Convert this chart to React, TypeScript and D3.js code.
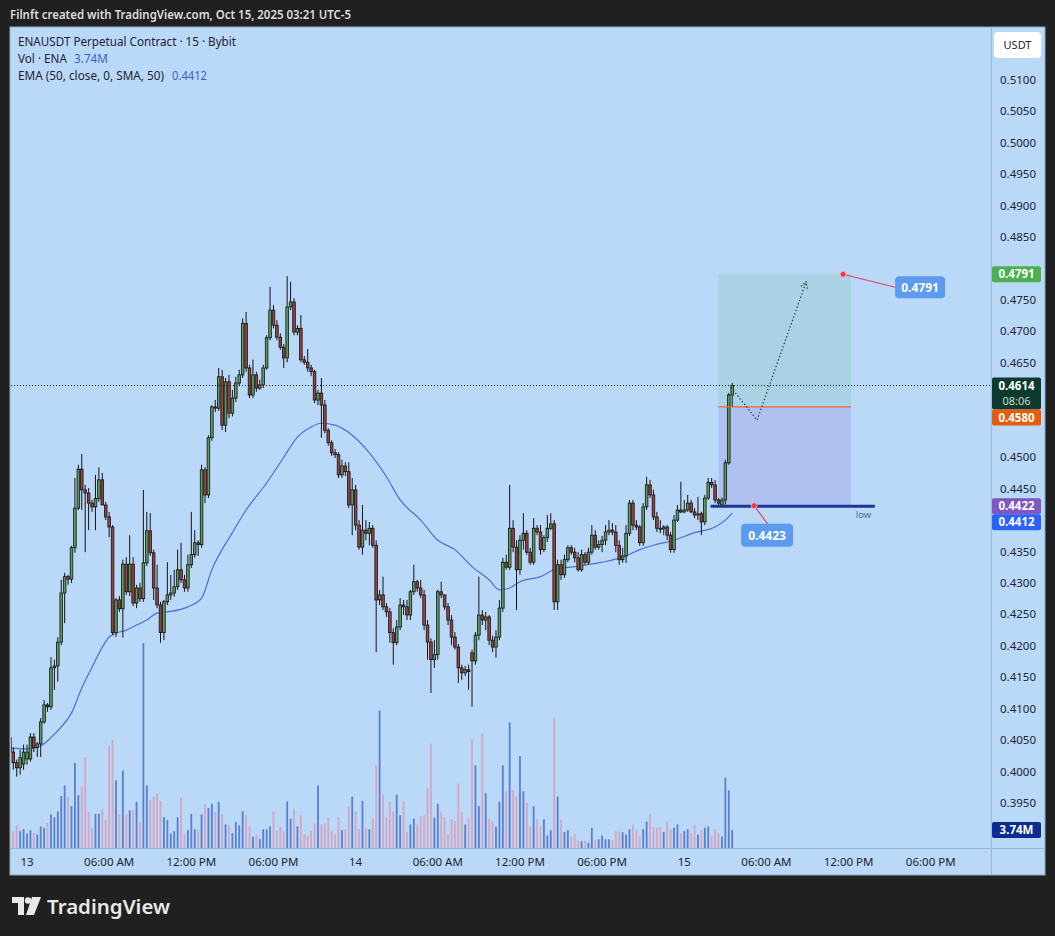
import React from "react";
import * as d3 from "d3";

// ---------- DATA (ENAUSDT 15m) ----------
const opens = [
  0.4054,0.4031,0.4014,0.4006,0.4012,0.4020,0.4020,0.4055,0.4038,0.4044,
  0.4079,0.4106,0.4103,0.4165,0.4168,0.4206,0.4284,0.4310,0.4306,0.4356,
  0.4419,0.4481,0.4448,0.4443,0.4427,0.4421,0.4434,0.4464,0.4424,0.4405,
  0.4389,0.4221,0.4273,0.4259,0.4330,0.4286,0.4330,0.4268,0.4292,0.4275,
  0.4332,0.4383,0.4348,0.4292,0.4265,0.4221,0.4270,0.4281,0.4284,0.4294,
  0.4321,0.4305,0.4292,0.4329,0.4345,0.4364,0.4361,0.4480,0.4440,0.4531,
  0.4580,0.4578,0.4628,0.4551,0.4620,0.4570,0.4594,0.4618,0.4631,0.4713,
  0.4642,0.4599,0.4631,0.4610,0.4615,0.4642,0.4690,0.4734,0.4710,0.4691,
  0.4675,0.4658,0.4739,0.4747,0.4699,0.4705,0.4655,0.4651,0.4642,0.4636,
  0.4591,0.4602,0.4583,0.4543,0.4523,0.4507,0.4504,0.4472,0.4486,0.4477,
  0.4424,0.4448,0.4392,0.4357,0.4384,0.4379,0.4387,0.4360,0.4273,0.4281,
  0.4262,0.4254,0.4221,0.4205,0.4230,0.4265,0.4262,0.4249,0.4286,0.4302,
  0.4292,0.4281,0.4233,0.4206,0.4178,0.4186,0.4286,0.4281,0.4262,0.4241,
  0.4214,0.4198,0.4165,0.4157,0.4162,0.4189,0.4176,0.4217,0.4249,0.4241,
  0.4246,0.4209,0.4198,0.4214,0.4260,0.4333,0.4325,0.4387,0.4357,0.4321,
  0.4368,0.4379,0.4349,0.4333,0.4387,0.4381,0.4353,0.4372,0.4387,0.4394,
  0.4270,0.4329,0.4313,0.4337,0.4356,0.4349,0.4340,0.4321,0.4345,0.4333,
  0.4349,0.4376,0.4357,0.4361,0.4368,0.4381,0.4384,0.4381,0.4360,0.4337,
  0.4343,0.4379,0.4427,0.4392,0.4389,0.4364,0.4421,0.4456,0.4440,0.4405,
  0.4387,0.4386,0.4389,0.4376,0.4353,0.4400,0.4416,0.4413,0.4416,0.4427,
  0.4413,0.4408,0.4410,0.4397,0.4435,0.4460,0.4456,0.4432,0.4424,0.4432,
  0.4491,0.4599,
];
const highs = [
  0.4058,0.4038,0.4019,0.4035,0.4043,0.4043,0.4061,0.4061,0.4047,0.4085,
  0.4114,0.4109,0.4182,0.4178,0.4214,0.4305,0.4316,0.4313,0.4359,0.4467,
  0.4488,0.4505,0.4456,0.4451,0.4432,0.4472,0.4484,0.4475,0.4429,0.4413,
  0.4392,0.4276,0.4279,0.4337,0.4341,0.4376,0.4341,0.4297,0.4300,0.4448,
  0.4413,0.4411,0.4353,0.4329,0.4270,0.4273,0.4333,0.4313,0.4321,0.4353,
  0.4364,0.4313,0.4345,0.4413,0.4384,0.4368,0.4488,0.4484,0.4535,0.4583,
  0.4591,0.4642,0.4639,0.4626,0.4631,0.4607,0.4628,0.4639,0.4721,0.4731,
  0.4647,0.4655,0.4636,0.4623,0.4647,0.4694,0.4771,0.4742,0.4718,0.4697,
  0.4680,0.4788,0.4779,0.4753,0.4710,0.4726,0.4661,0.4672,0.4647,0.4639,
  0.4607,0.4626,0.4591,0.4546,0.4527,0.4513,0.4508,0.4496,0.4492,0.4492,
  0.4467,0.4456,0.4400,0.4424,0.4400,0.4397,0.4392,0.4368,0.4289,0.4310,
  0.4268,0.4260,0.4228,0.4241,0.4276,0.4273,0.4273,0.4289,0.4329,0.4305,
  0.4305,0.4289,0.4241,0.4212,0.4209,0.4289,0.4302,0.4281,0.4268,0.4249,
  0.4222,0.4203,0.4170,0.4168,0.4170,0.4194,0.4222,0.4310,0.4257,0.4254,
  0.4249,0.4216,0.4225,0.4273,0.4340,0.4345,0.4456,0.4400,0.4368,0.4376,
  0.4411,0.4384,0.4356,0.4403,0.4392,0.4392,0.4376,0.4408,0.4411,0.4400,
  0.4337,0.4337,0.4345,0.4360,0.4360,0.4356,0.4349,0.4353,0.4349,0.4356,
  0.4392,0.4384,0.4368,0.4375,0.4392,0.4400,0.4395,0.4392,0.4368,0.4356,
  0.4392,0.4432,0.4432,0.4400,0.4392,0.4427,0.4469,0.4464,0.4448,0.4413,
  0.4400,0.4392,0.4392,0.4381,0.4408,0.4424,0.4461,0.4432,0.4440,0.4432,
  0.4419,0.4437,0.4413,0.4440,0.4467,0.4467,0.4464,0.4435,0.4436,0.4496,
  0.4602,0.4618,
];
const lows = [
  0.4025,0.4003,0.3992,0.3995,0.4003,0.4011,0.4016,0.4031,0.4023,0.4023,
  0.4076,0.4095,0.4098,0.4130,0.4143,0.4201,0.4236,0.4297,0.4300,0.4348,
  0.4416,0.4416,0.4349,0.4384,0.4413,0.4384,0.4429,0.4424,0.4400,0.4373,
  0.4217,0.4214,0.4254,0.4213,0.4281,0.4279,0.4263,0.4260,0.4270,0.4270,
  0.4327,0.4343,0.4273,0.4260,0.4205,0.4209,0.4265,0.4273,0.4278,0.4289,
  0.4300,0.4286,0.4286,0.4324,0.4340,0.4343,0.4356,0.4427,0.4435,0.4526,
  0.4572,0.4574,0.4543,0.4540,0.4562,0.4565,0.4588,0.4613,0.4626,0.4636,
  0.4594,0.4594,0.4604,0.4607,0.4610,0.4639,0.4686,0.4705,0.4686,0.4671,
  0.4642,0.4651,0.4734,0.4694,0.4694,0.4651,0.4647,0.4636,0.4629,0.4586,
  0.4583,0.4531,0.4538,0.4518,0.4502,0.4499,0.4467,0.4467,0.4470,0.4419,
  0.4376,0.4384,0.4353,0.4345,0.4368,0.4360,0.4356,0.4190,0.4265,0.4257,
  0.4246,0.4205,0.4170,0.4201,0.4225,0.4249,0.4241,0.4241,0.4281,0.4286,
  0.4276,0.4225,0.4178,0.4125,0.4165,0.4178,0.4276,0.4257,0.4233,0.4201,
  0.4194,0.4141,0.4146,0.4152,0.4130,0.4103,0.4170,0.4209,0.4233,0.4225,
  0.4201,0.4190,0.4181,0.4209,0.4254,0.4321,0.4321,0.4349,0.4257,0.4313,
  0.4353,0.4345,0.4329,0.4329,0.4376,0.4345,0.4349,0.4365,0.4384,0.4257,
  0.4257,0.4305,0.4308,0.4333,0.4345,0.4333,0.4318,0.4318,0.4329,0.4329,
  0.4345,0.4353,0.4353,0.4349,0.4360,0.4376,0.4376,0.4349,0.4329,0.4332,
  0.4332,0.4375,0.4384,0.4384,0.4359,0.4359,0.4416,0.4435,0.4400,0.4381,
  0.4379,0.4376,0.4368,0.4348,0.4348,0.4397,0.4411,0.4411,0.4413,0.4411,
  0.4403,0.4400,0.4376,0.4392,0.4432,0.4451,0.4427,0.4423,0.4421,0.4425,
  0.4488,0.4580,
];
const closes = [
  0.4031,0.4014,0.4006,0.4022,0.4031,0.4031,0.4055,0.4038,0.4044,0.4079,
  0.4106,0.4103,0.4165,0.4168,0.4206,0.4284,0.4310,0.4306,0.4356,0.4419,
  0.4481,0.4448,0.4443,0.4427,0.4421,0.4434,0.4464,0.4424,0.4405,0.4389,
  0.4221,0.4273,0.4259,0.4330,0.4286,0.4330,0.4268,0.4292,0.4275,0.4332,
  0.4383,0.4348,0.4292,0.4265,0.4221,0.4270,0.4281,0.4284,0.4294,0.4321,
  0.4305,0.4292,0.4329,0.4345,0.4364,0.4361,0.4480,0.4440,0.4531,0.4580,
  0.4578,0.4628,0.4551,0.4620,0.4570,0.4594,0.4618,0.4631,0.4713,0.4642,
  0.4599,0.4631,0.4610,0.4615,0.4642,0.4690,0.4734,0.4710,0.4691,0.4675,
  0.4658,0.4739,0.4747,0.4699,0.4705,0.4655,0.4651,0.4642,0.4636,0.4591,
  0.4602,0.4583,0.4543,0.4523,0.4507,0.4504,0.4472,0.4486,0.4477,0.4424,
  0.4448,0.4392,0.4357,0.4384,0.4379,0.4387,0.4360,0.4273,0.4281,0.4262,
  0.4254,0.4221,0.4205,0.4230,0.4265,0.4262,0.4249,0.4286,0.4302,0.4292,
  0.4281,0.4233,0.4206,0.4178,0.4186,0.4286,0.4281,0.4262,0.4241,0.4214,
  0.4198,0.4165,0.4157,0.4162,0.4159,0.4176,0.4217,0.4249,0.4241,0.4246,
  0.4209,0.4198,0.4214,0.4260,0.4333,0.4325,0.4387,0.4357,0.4321,0.4368,
  0.4379,0.4349,0.4333,0.4387,0.4381,0.4353,0.4372,0.4387,0.4394,0.4270,
  0.4329,0.4313,0.4337,0.4356,0.4349,0.4340,0.4321,0.4345,0.4333,0.4349,
  0.4376,0.4357,0.4361,0.4368,0.4381,0.4384,0.4381,0.4360,0.4337,0.4343,
  0.4379,0.4427,0.4392,0.4389,0.4364,0.4421,0.4456,0.4440,0.4405,0.4387,
  0.4386,0.4389,0.4376,0.4353,0.4400,0.4416,0.4413,0.4416,0.4427,0.4413,
  0.4408,0.4410,0.4397,0.4435,0.4460,0.4456,0.4432,0.4427,0.4432,0.4491,
  0.4599,0.4614,
];
// volume in millions of ENA
const volumes = [
  3.0,3.5,4.7,3.5,3.9,3.0,3.7,3.1,2.8,4.5,
  4.2,5.2,7.0,6.4,7.6,10.8,13.0,10.7,8.7,17.7,
  11.0,12.8,18.9,7.5,4.2,7.1,7.1,8.0,5.9,21.3,
  22.5,14.1,7.0,16.1,7.0,7.8,7.8,9.6,5.4,42.6,
  13.0,10.0,10.7,11.3,9.8,6.4,5.8,3.0,3.5,6.4,
  10.6,3.0,3.7,7.1,3.9,3.9,7.0,9.2,8.3,9.2,
  7.5,9.6,7.1,4.9,4.7,3.1,5.4,4.7,7.6,6.9,
  4.5,2.3,2.8,1.9,3.9,3.9,4.5,7.6,3.5,4.4,
  3.5,9.7,6.1,8.2,4.5,6.8,2.8,2.5,3.5,5.1,
  13.0,4.9,5.1,6.4,3.5,2.8,6.4,3.7,3.9,8.7,
  10.7,7.6,4.0,9.8,4.2,3.9,6.0,17.2,28.6,11.1,
  6.4,9.7,7.6,11.1,6.8,9.7,3.3,4.9,6.1,4.9,
  6.6,6.8,12.5,21.7,6.3,9.2,7.5,6.4,2.8,6.0,
  5.6,13.4,7.5,4.9,6.1,22.6,17.2,8.7,23.8,11.4,
  6.1,5.6,4.4,9.6,17.2,11.8,26.1,12.0,10.7,19.1,
  11.8,9.4,4.5,8.7,6.0,4.5,6.0,2.6,3.7,27.1,
  10.7,5.9,3.3,3.7,2.4,2.8,1.6,1.4,1.5,1.1,
  4.2,1.8,1.8,2.6,1.8,1.8,1.6,3.5,3.5,3.3,
  2.8,3.9,4.9,3.7,2.4,3.9,5.5,7.0,4.4,4.2,
  4.4,3.3,5.5,3.8,4.2,4.9,3.1,3.5,3.9,3.1,
  4.7,2.8,3.7,4.2,4.5,2.6,3.9,3.0,2.4,14.6,
  12.0,3.74,
];

// EMA(50) at sample bars
const emaBars = [0,5,9,12,15,18,21,24,27,29,31,34,37,40,43,46,52,56,59,65,69,75,80,84,88,91,95,100,105,110,114,120,125,130,135,140,143,146,149,155,159,165,173,179,184,188,194,200,206,209,211];
const emaValues = [0.4038,0.4036,0.4041,0.4054,0.4071,0.4093,0.4133,0.4166,0.4198,0.4214,0.4220,0.4225,0.4233,0.4241,0.4252,0.4254,0.4262,0.4276,0.4321,0.4380,0.4416,0.4459,0.4500,0.4532,0.4548,0.4554,0.4551,0.4535,0.4507,0.4469,0.4432,0.4400,0.4368,0.4353,0.4326,0.4305,0.4289,0.4292,0.4302,0.4310,0.4321,0.4326,0.4333,0.4341,0.4353,0.4360,0.4368,0.4380,0.4389,0.4400,0.4411];

const BAR_MINUTES = 15;
const FIRST_BAR_MINUTE = -75; // minutes from Oct 13 00:00 (UTC-5)

const timeTickMinutes = [0,360,720,1080,1440,1800,2160,2520,2880,3240,3600,3960];
const timeTickLabels = ["13","06:00 AM","12:00 PM","06:00 PM","14","06:00 AM","12:00 PM","06:00 PM","15","06:00 AM","12:00 PM","06:00 PM"];
const priceTicks = [0.390,0.395,0.400,0.405,0.410,0.415,0.420,0.425,0.430,0.435,0.440,0.445,0.450,0.455,0.460,0.465,0.470,0.475,0.480,0.485,0.490,0.495,0.500,0.505,0.510];

// Long-position drawing
const positionStartMinute = 3030;
const positionEndMinute = 3610;
const entryPrice = 0.4580;
const targetPrice = 0.4791;
const stopPrice = 0.4423;
const lowLinePrice = 0.4422;
const lowLineMinutes = [2995, 3715];
const projMinutes = [3085, 3199, 3414];
const projPrices = [0.4611, 0.4559, 0.4779];
const targetDotMinute = 3576;
const stopDotMinute = 3186;
const lastPrice = 0.4614;
const countdown = "08:06";
const emaLast = 0.4412;
const lastVolume = 3.74;
const lastVolumeLabel = "3.74M";

const FONT = "'Noto Sans', 'DejaVu Sans', sans-serif";

export default function App() {
  const W = 1055, H = 936;
  const plotL = 11, plotR = 991, plotT = 27, plotB = 848;

  const x = d3.scaleLinear().domain([-70.1, 4224]).range([plotL, plotR]);
  const y = d3.scaleLinear().domain([0.395, 0.51]).range([803, 80]);
  const vy = d3.scaleLinear().domain([0, 10]).range([plotB, plotB - 48.1]);
  const bx = (i: number) => x(FIRST_BAR_MINUTE + i * BAR_MINUTES);

  const emaLine = d3
    .line<number>()
    .x((_, i) => bx(emaBars[i]))
    .y((v) => y(v))
    .curve(d3.curveMonotoneX)(emaValues) as string;

  const fmt = d3.format(".4f");

  // axis labels with simple collision stacking
  type Lab = { yc: number; h: number; fill: string; text: string; sub?: string; topOff: number };
  const rawLabels: Lab[] = [
    { yc: y(targetPrice), h: 16, fill: "#4caf50", text: fmt(targetPrice), topOff: 8 },
    { yc: y(lastPrice), h: 32, fill: "#0c3a2d", text: fmt(lastPrice), sub: countdown, topOff: 8 },
    { yc: y(entryPrice), h: 16, fill: "#e65c0f", text: fmt(entryPrice), topOff: 8 },
    { yc: y(lowLinePrice), h: 16, fill: "#7e57c2", text: fmt(lowLinePrice), topOff: 8 },
    { yc: y(emaLast), h: 16, fill: "#2962ff", text: fmt(emaLast), topOff: 8 },
    { yc: vy(lastVolume), h: 16, fill: "#0d2c8f", text: lastVolumeLabel, topOff: 8 },
  ];
  let prevBottom = -Infinity;
  const axisLabels = rawLabels.map((l) => {
    const top = Math.max(l.yc - l.topOff, prevBottom);
    prevBottom = top + l.h;
    return { ...l, top };
  });
  // tick labels that sit under a coloured label are hidden by it
  const visibleTicks = priceTicks.filter(
    (p) => !axisLabels.some((l) => y(p) + 5 > l.top && y(p) - 5 < l.top + l.h)
  );

  const posL = x(positionStartMinute), posR = x(positionEndMinute);
  const yT = y(targetPrice), yE = y(entryPrice), yS = y(stopPrice);

  const projPts = projMinutes.map((m, i) => [x(m), y(projPrices[i])] as [number, number]);
  const pEnd = projPts[2], pPrev = projPts[1];
  const ang = Math.atan2(pEnd[1] - pPrev[1], pEnd[0] - pPrev[0]);
  const ah = 7;
  const a1 = [pEnd[0] - ah * Math.cos(ang - 0.5), pEnd[1] - ah * Math.sin(ang - 0.5)];
  const a2 = [pEnd[0] - ah * Math.cos(ang + 0.5), pEnd[1] - ah * Math.sin(ang + 0.5)];

  const tdx = x(targetDotMinute), tdy = y(targetPrice);
  const sdx = x(stopDotMinute), sdy = y(stopPrice);

  const bw = 2.6;

  return (
    <svg width={W} height={H} style={{ position: "absolute", left: 0, top: 0, display: "block" }} fontFamily={FONT}>
      <defs>
        <clipPath id="plotClip">
          <rect x={plotL} y={plotT} width={plotR - plotL} height={plotB - plotT} />
        </clipPath>
      </defs>
      <rect x={0} y={0} width={W} height={H} fill="#202020" />
      <text x={10} y={19} fill="#dedede" fontSize={12.5} fontWeight={600} textLength={341} lengthAdjust="spacingAndGlyphs">
        Filnft created with TradingView.com, Oct 15, 2025 03:21 UTC-5
      </text>

      {/* chart panel */}
      <rect x={10} y={27} width={1035} height={848} fill="#bad8f8" stroke="#8ea9c6" strokeWidth={1} />
      <line x1={plotR + 0.5} x2={plotR + 0.5} y1={27} y2={875} stroke="#9db7d3" />
      <line x1={10} x2={1045} y1={plotB + 0.5} y2={plotB + 0.5} stroke="#9db7d3" />

      <g clipPath="url(#plotClip)">
        {/* volume */}
        {volumes.map((v, i) => (
          <rect key={"v" + i} x={bx(i) - 0.9} y={vy(v)} width={1.8} height={plotB - vy(v)}
            fill={closes[i] >= opens[i] ? "#5a7fd0" : "#d5a7bf"} />
        ))}

        {/* position tool */}
        <rect x={posL} y={yT} width={posR - posL} height={yE - yT} fill="#9fcfd9" opacity={0.65} />
        <rect x={posL} y={yE} width={posR - posL} height={yS - yE} fill="#aab9ee" opacity={0.75} />

        {/* EMA */}
        <path d={emaLine} fill="none" stroke="#4a6ee0" strokeWidth={1.2} />

        {/* candles */}
        {opens.map((o, i) => {
          const c = closes[i];
          const up = c >= o;
          const cx = bx(i);
          const yTop = y(Math.max(o, c));
          const yBot = y(Math.min(o, c));
          return (
            <g key={"c" + i}>
              <line x1={cx} x2={cx} y1={y(highs[i])} y2={y(lows[i])} stroke="#141414" strokeWidth={1} />
              <rect x={cx - bw / 2} y={yTop} width={bw} height={Math.max(yBot - yTop, 1)}
                fill={up ? "#5a9a5c" : "#9a3f3f"} stroke="#141414" strokeWidth={0.8} />
            </g>
          );
        })}

        {/* entry line */}
        <line x1={posL} x2={posR} y1={yE} y2={yE} stroke="#ec6a2a" strokeWidth={1.3} />
        {/* low line */}
        <line x1={x(lowLineMinutes[0])} x2={x(lowLineMinutes[1])} y1={y(lowLinePrice)} y2={y(lowLinePrice)} stroke="#1c3793" strokeWidth={3} />
        <text x={x(lowLineMinutes[1]) - 19} y={y(lowLinePrice) + 12} fontSize={9.5} fill="#4b6aa3">low</text>

        {/* last price dotted line */}
        <line x1={plotL} x2={plotR} y1={y(lastPrice)} y2={y(lastPrice)} stroke="#1a1a1a" strokeWidth={1} strokeDasharray="1 2" />

        {/* projection path */}
        <polyline points={projPts.map((p) => p.join(",")).join(" ")} fill="none" stroke="#2a2a2a" strokeWidth={1.2} strokeDasharray="1.3 2.2" />
        <polyline points={`${a1[0]},${a1[1]} ${pEnd[0]},${pEnd[1]} ${a2[0]},${a2[1]}`} fill="none" stroke="#2a2a2a" strokeWidth={1.2} strokeDasharray="1.3 1.8" />

        {/* target label */}
        <line x1={tdx} x2={tdx + 52} y1={tdy} y2={tdy + 13} stroke="#e0455a" strokeWidth={1.2} />
        <circle cx={tdx} cy={tdy} r={3} fill="#ee3a4f" stroke="#f6c0c8" strokeWidth={0.8} />
        <rect x={tdx + 52} y={tdy + 2} width={50} height={22} rx={4} fill="#5d9bf0" />
        <text x={tdx + 77} y={tdy + 17.5} fontSize={12} fontWeight={700} fill="#ffffff" textAnchor="middle">{fmt(targetPrice)}</text>

        {/* stop label */}
        <line x1={sdx} x2={sdx + 14} y1={sdy} y2={sdy + 19} stroke="#e0455a" strokeWidth={1.2} />
        <circle cx={sdx} cy={sdy} r={3} fill="#ee3a4f" stroke="#f6c0c8" strokeWidth={0.8} />
        <rect x={sdx - 13} y={sdy + 18} width={52} height={23} rx={4} fill="#5d9bf0" />
        <text x={sdx + 13} y={sdy + 34} fontSize={12} fontWeight={700} fill="#ffffff" textAnchor="middle">{fmt(stopPrice)}</text>
      </g>

      {/* legend */}
      <text x={18} y={46} fontSize={12} fill="#1e2430" textLength={218} lengthAdjust="spacingAndGlyphs">ENAUSDT Perpetual Contract · 15 · Bybit</text>
      <text x={18} y={63} fontSize={12} fill="#1e2430" textLength={49} lengthAdjust="spacingAndGlyphs">Vol · ENA</text>
      <text x={74} y={63} fontSize={12} fill="#3f63c8" textLength={34} lengthAdjust="spacingAndGlyphs">{lastVolumeLabel}</text>
      <text x={18} y={80} fontSize={12} fill="#1e2430" textLength={146} lengthAdjust="spacingAndGlyphs">EMA (50, close, 0, SMA, 50)</text>
      <text x={172} y={80} fontSize={12} fill="#3f63c8" textLength={35} lengthAdjust="spacingAndGlyphs">{fmt(emaLast)}</text>

      {/* price axis */}
      <rect x={994} y={32} width={47} height={26} rx={4} fill="#ffffff" />
      <text x={1017.5} y={49} fontSize={11} fill="#1e2430" textAnchor="middle">USDT</text>
      {visibleTicks.map((p) => (
        <text key={"p" + p} x={1018} y={y(p) + 4} fontSize={11.5} fill="#1e2430" textAnchor="middle">{fmt(p)}</text>
      ))}
      {axisLabels.map((l, i) => (
        <g key={"l" + i}>
          <rect x={992} y={l.top} width={49} height={l.h} rx={2} fill={l.fill} />
          <text x={1016.5} y={l.top + 12} fontSize={11.5} fontWeight={700} fill="#ffffff" textAnchor="middle">{l.text}</text>
          {l.sub && (
            <text x={1016.5} y={l.top + 27} fontSize={11} fill="#c9d6d0" textAnchor="middle">{l.sub}</text>
          )}
        </g>
      ))}

      {/* time axis */}
      {timeTickMinutes.map((m, i) => (
        <text key={"t" + i} x={x(m)} y={866} fontSize={11.5} fill="#1e2430" textAnchor="middle">{timeTickLabels[i]}</text>
      ))}

      {/* TradingView logo */}
      <g fill="#e8e8e8">
        <path d="M12 897 H24 V915 H18 V903 H12 Z" />
        <circle cx={28} cy={900.5} r={3.2} />
        <path d="M32 897 H41 L34 915 H26 Z" />
      </g>
      <text x={47} y={914} fontSize={20} fontWeight={600} fill="#e8e8e8" textLength={123} lengthAdjust="spacingAndGlyphs">TradingView</text>
    </svg>
  );
}
